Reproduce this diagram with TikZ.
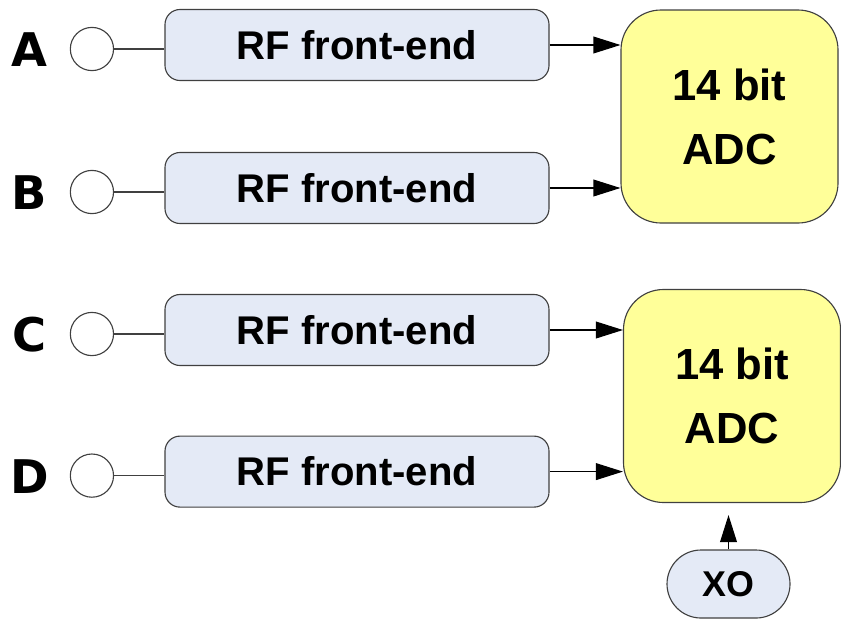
\documentclass[tikz,border=0pt]{standalone}
\usepackage{fontspec}
\setmainfont{Liberation Sans}
\newfontfamily\portfont{DejaVu Sans}
\usetikzlibrary{arrows.meta}
\definecolor{rffill}{RGB}{228,234,246}
\definecolor{adcfill}{RGB}{255,255,153}
\definecolor{edgegray}{RGB}{64,64,64}

\begin{document}
\begin{tikzpicture}[
    rf/.style={draw=edgegray,fill=rffill,rounded corners=0.375cm,minimum width=9.6cm,
        minimum height=1.775cm,line width=0.8pt,font=\bfseries\fontsize{28.5}{30}\selectfont},
    adc/.style={draw=edgegray,fill=adcfill,rounded corners=1cm,minimum width=5.425cm,
        minimum height=5.325cm,line width=0.8pt,align=center,
        font=\bfseries\fontsize{31}{45.5}\selectfont},
    ant/.style={draw=edgegray,circle,minimum size=1.08cm,inner sep=0pt,line width=0.8pt},
    port/.style={font=\portfont\bfseries\fontsize{33}{36}\selectfont},
    feed/.style={draw=edgegray,line width=0.8pt},
    sig/.style={-{Triangle[length=0.675cm,width=0.42cm]},line width=0.8pt}
]
\useasboundingbox (0,0) rectangle (21.025,-15.525);
% front-ends
\path
    (8.925,-1.125) node [rf] (rfA) {RF front-end}
    +(0,-3.575) node [rf] (rfB) {RF front-end}
    +(0,-7.125) node [rf] (rfC) {RF front-end}
    +(0,-10.665) node [rf] (rfD) {RF front-end};
% inputs
\foreach \ch in {A,B,C,D} {
    \path (rf\ch.west) +(-3.375,-0.12) node [port] (lbl\ch) {\ch}
        (rf\ch.west) +(-1.8125,-0.1) node [ant] (ant\ch) {};
    \draw [feed] (ant\ch) -- (ant\ch -| rf\ch.west);
}
% converters
\node [adc] (adc1) at (18.2375,-2.9125) {14 bit\\ ADC};
\node [adc] (adc2) at (18.3,-9.9) {14 bit\\ ADC};
\node [draw=edgegray,fill=rffill,line width=0.8pt,rounded corners=0.85cm,
    minimum width=3.075cm,minimum height=1.7cm,
    font=\bfseries\fontsize{25.5}{27}\selectfont] (xo) at (18.2125,-14.6) {XO};
\draw [sig] (rfA.east) -- (rfA.east -| adc1.west);
\draw [sig] (rfB.east) -- (rfB.east -| adc1.west);
\draw [sig] (rfC.east) -- (rfC.east -| adc2.west);
\draw [sig] (rfD.east) -- (rfD.east -| adc2.west);
\draw [sig,shorten >=0.3cm] (xo.north) -- (xo.north |- adc2.south);
\end{tikzpicture}
\end{document}
